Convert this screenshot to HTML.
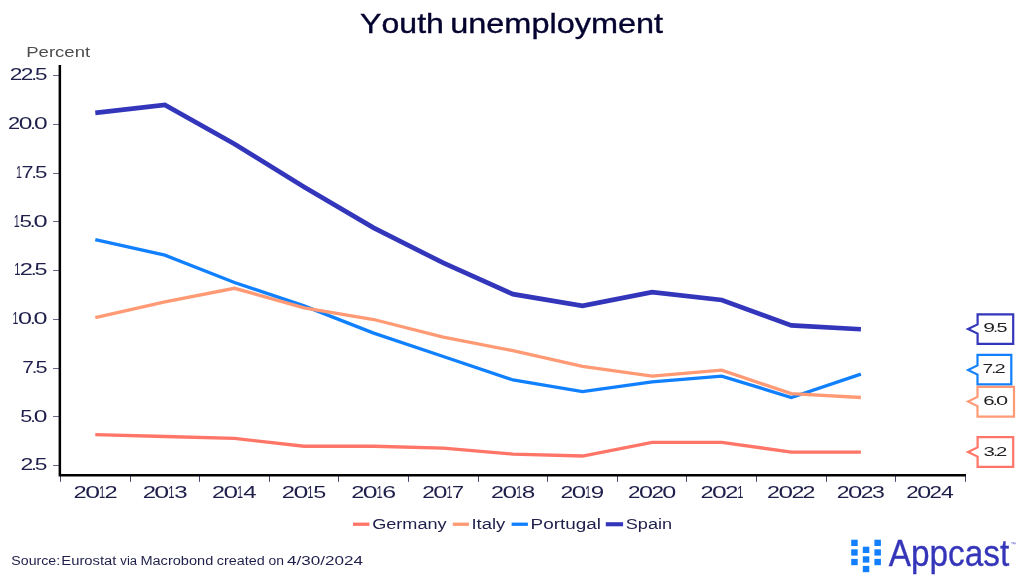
<!DOCTYPE html>
<html lang="en"><head><meta charset="utf-8"><title>Youth unemployment</title>
<style>
html,body{margin:0;padding:0;background:#fff;}
body{width:1024px;height:581px;overflow:hidden;}
svg{display:block;will-change:transform;}
text{font-family:"Liberation Sans",sans-serif;font-kerning:none;}
</style></head><body>
<svg width="1024" height="581" viewBox="0 0 1024 581">
<rect width="1024" height="581" fill="#fff"/>
<text y="32.90" font-size="28" fill="#04032f" stroke="#04032f" stroke-width="0.35"><tspan x="360.10" textLength="83.79" lengthAdjust="spacingAndGlyphs">Youth</tspan> <tspan x="450.19" textLength="212.95" lengthAdjust="spacingAndGlyphs">unemployment</tspan></text>
<text x="26.28" y="56.70" font-size="15.3" fill="#4d4d4d" textLength="63.86" lengthAdjust="spacingAndGlyphs">Percent</text>
<line x1="53" x2="59" y1="75.5" y2="75.5" stroke="#66668a" stroke-width="1"/>
<text y="80.30" font-size="16.2" fill="#1f1f4b"><tspan x="9.85" textLength="12.68" lengthAdjust="spacingAndGlyphs">2</tspan><tspan x="20.83" textLength="12.68" lengthAdjust="spacingAndGlyphs">2</tspan><tspan x="31.25" textLength="5.77" lengthAdjust="spacingAndGlyphs">.</tspan><tspan x="35.02" textLength="12.53" lengthAdjust="spacingAndGlyphs">5</tspan></text>
<line x1="53" x2="59" y1="124.5" y2="124.5" stroke="#66668a" stroke-width="1"/>
<text y="129.05" font-size="16.2" fill="#1f1f4b"><tspan x="8.10" textLength="12.14" lengthAdjust="spacingAndGlyphs">2</tspan><tspan x="18.75" textLength="13.66" lengthAdjust="spacingAndGlyphs">0</tspan><tspan x="30.39" textLength="5.53" lengthAdjust="spacingAndGlyphs">.</tspan><tspan x="33.90" textLength="13.66" lengthAdjust="spacingAndGlyphs">0</tspan></text>
<line x1="53" x2="59" y1="173.5" y2="173.5" stroke="#66668a" stroke-width="1"/>
<text y="177.80" font-size="16.2" fill="#1f1f4b"><tspan x="16.09" textLength="5.94" lengthAdjust="spacingAndGlyphs">1</tspan><tspan x="21.58" textLength="11.99" lengthAdjust="spacingAndGlyphs">7</tspan><tspan x="31.39" textLength="5.72" lengthAdjust="spacingAndGlyphs">.</tspan><tspan x="35.12" textLength="12.42" lengthAdjust="spacingAndGlyphs">5</tspan></text>
<line x1="53" x2="59" y1="221.5" y2="221.5" stroke="#66668a" stroke-width="1"/>
<text y="226.55" font-size="16.2" fill="#1f1f4b"><tspan x="13.68" textLength="5.95" lengthAdjust="spacingAndGlyphs">1</tspan><tspan x="19.40" textLength="12.44" lengthAdjust="spacingAndGlyphs">5</tspan><tspan x="29.80" textLength="5.73" lengthAdjust="spacingAndGlyphs">.</tspan><tspan x="33.43" textLength="14.16" lengthAdjust="spacingAndGlyphs">0</tspan></text>
<line x1="53" x2="59" y1="270.5" y2="270.5" stroke="#66668a" stroke-width="1"/>
<text y="275.30" font-size="16.2" fill="#1f1f4b"><tspan x="14.15" textLength="6.22" lengthAdjust="spacingAndGlyphs">1</tspan><tspan x="19.86" textLength="13.15" lengthAdjust="spacingAndGlyphs">2</tspan><tspan x="30.68" textLength="5.99" lengthAdjust="spacingAndGlyphs">.</tspan><tspan x="34.58" textLength="13.00" lengthAdjust="spacingAndGlyphs">5</tspan></text>
<line x1="53" x2="59" y1="319.5" y2="319.5" stroke="#66668a" stroke-width="1"/>
<text y="324.05" font-size="16.2" fill="#1f1f4b"><tspan x="12.49" textLength="5.89" lengthAdjust="spacingAndGlyphs">1</tspan><tspan x="18.04" textLength="14.01" lengthAdjust="spacingAndGlyphs">0</tspan><tspan x="29.98" textLength="5.67" lengthAdjust="spacingAndGlyphs">.</tspan><tspan x="33.58" textLength="14.01" lengthAdjust="spacingAndGlyphs">0</tspan></text>
<line x1="53" x2="59" y1="368.5" y2="368.5" stroke="#66668a" stroke-width="1"/>
<text y="372.80" font-size="16.2" fill="#1f1f4b"><tspan x="22.33" textLength="11.63" lengthAdjust="spacingAndGlyphs">7</tspan><tspan x="31.85" textLength="5.55" lengthAdjust="spacingAndGlyphs">.</tspan><tspan x="35.46" textLength="12.05" lengthAdjust="spacingAndGlyphs">5</tspan></text>
<line x1="53" x2="59" y1="416.5" y2="416.5" stroke="#66668a" stroke-width="1"/>
<text y="421.55" font-size="16.2" fill="#1f1f4b"><tspan x="20.34" textLength="12.01" lengthAdjust="spacingAndGlyphs">5</tspan><tspan x="30.38" textLength="5.53" lengthAdjust="spacingAndGlyphs">.</tspan><tspan x="33.89" textLength="13.67" lengthAdjust="spacingAndGlyphs">0</tspan></text>
<line x1="53" x2="59" y1="465.5" y2="465.5" stroke="#66668a" stroke-width="1"/>
<text y="470.30" font-size="16.2" fill="#1f1f4b"><tspan x="20.54" textLength="12.82" lengthAdjust="spacingAndGlyphs">2</tspan><tspan x="31.08" textLength="5.84" lengthAdjust="spacingAndGlyphs">.</tspan><tspan x="34.89" textLength="12.67" lengthAdjust="spacingAndGlyphs">5</tspan></text>
<line x1="60.5" x2="60.5" y1="476" y2="481.8" stroke="#45456f" stroke-width="1"/>
<line x1="130.5" x2="130.5" y1="476" y2="481.8" stroke="#45456f" stroke-width="1"/>
<line x1="199.5" x2="199.5" y1="476" y2="481.8" stroke="#45456f" stroke-width="1"/>
<line x1="269.5" x2="269.5" y1="476" y2="481.8" stroke="#45456f" stroke-width="1"/>
<line x1="338.5" x2="338.5" y1="476" y2="481.8" stroke="#45456f" stroke-width="1"/>
<line x1="408.5" x2="408.5" y1="476" y2="481.8" stroke="#45456f" stroke-width="1"/>
<line x1="478.5" x2="478.5" y1="476" y2="481.8" stroke="#45456f" stroke-width="1"/>
<line x1="547.5" x2="547.5" y1="476" y2="481.8" stroke="#45456f" stroke-width="1"/>
<line x1="617.5" x2="617.5" y1="476" y2="481.8" stroke="#45456f" stroke-width="1"/>
<line x1="686.5" x2="686.5" y1="476" y2="481.8" stroke="#45456f" stroke-width="1"/>
<line x1="756.5" x2="756.5" y1="476" y2="481.8" stroke="#45456f" stroke-width="1"/>
<line x1="826.5" x2="826.5" y1="476" y2="481.8" stroke="#45456f" stroke-width="1"/>
<line x1="895.5" x2="895.5" y1="476" y2="481.8" stroke="#45456f" stroke-width="1"/>
<line x1="965.5" x2="965.5" y1="476" y2="481.8" stroke="#45456f" stroke-width="1"/>
<text y="498.20" font-size="16.2" fill="#1f1f4b"><tspan x="73.61" textLength="13.16" lengthAdjust="spacingAndGlyphs">2</tspan><tspan x="85.16" textLength="14.82" lengthAdjust="spacingAndGlyphs">0</tspan><tspan x="98.90" textLength="6.23" lengthAdjust="spacingAndGlyphs">1</tspan><tspan x="104.63" textLength="13.16" lengthAdjust="spacingAndGlyphs">2</tspan></text>
<text y="498.20" font-size="16.2" fill="#1f1f4b"><tspan x="142.70" textLength="13.29" lengthAdjust="spacingAndGlyphs">2</tspan><tspan x="154.35" textLength="14.95" lengthAdjust="spacingAndGlyphs">0</tspan><tspan x="168.22" textLength="6.28" lengthAdjust="spacingAndGlyphs">1</tspan><tspan x="174.28" textLength="13.37" lengthAdjust="spacingAndGlyphs">3</tspan></text>
<text y="498.20" font-size="16.2" fill="#1f1f4b"><tspan x="212.13" textLength="12.94" lengthAdjust="spacingAndGlyphs">2</tspan><tspan x="223.48" textLength="14.56" lengthAdjust="spacingAndGlyphs">0</tspan><tspan x="236.99" textLength="6.12" lengthAdjust="spacingAndGlyphs">1</tspan><tspan x="243.23" textLength="13.37" lengthAdjust="spacingAndGlyphs">4</tspan></text>
<text y="498.20" font-size="16.2" fill="#1f1f4b"><tspan x="281.80" textLength="13.22" lengthAdjust="spacingAndGlyphs">2</tspan><tspan x="293.41" textLength="14.88" lengthAdjust="spacingAndGlyphs">0</tspan><tspan x="307.21" textLength="6.25" lengthAdjust="spacingAndGlyphs">1</tspan><tspan x="313.22" textLength="13.07" lengthAdjust="spacingAndGlyphs">5</tspan></text>
<text y="498.20" font-size="16.2" fill="#1f1f4b"><tspan x="351.21" textLength="13.19" lengthAdjust="spacingAndGlyphs">2</tspan><tspan x="362.78" textLength="14.84" lengthAdjust="spacingAndGlyphs">0</tspan><tspan x="376.55" textLength="6.24" lengthAdjust="spacingAndGlyphs">1</tspan><tspan x="382.21" textLength="13.89" lengthAdjust="spacingAndGlyphs">6</tspan></text>
<text y="498.20" font-size="16.2" fill="#1f1f4b"><tspan x="422.26" textLength="12.63" lengthAdjust="spacingAndGlyphs">2</tspan><tspan x="433.34" textLength="14.21" lengthAdjust="spacingAndGlyphs">0</tspan><tspan x="446.52" textLength="5.97" lengthAdjust="spacingAndGlyphs">1</tspan><tspan x="452.04" textLength="12.05" lengthAdjust="spacingAndGlyphs">7</tspan></text>
<text y="498.20" font-size="16.2" fill="#1f1f4b"><tspan x="491.13" textLength="12.94" lengthAdjust="spacingAndGlyphs">2</tspan><tspan x="502.48" textLength="14.57" lengthAdjust="spacingAndGlyphs">0</tspan><tspan x="516.00" textLength="6.12" lengthAdjust="spacingAndGlyphs">1</tspan><tspan x="521.73" textLength="13.52" lengthAdjust="spacingAndGlyphs">8</tspan></text>
<text y="498.20" font-size="16.2" fill="#1f1f4b"><tspan x="560.54" textLength="12.79" lengthAdjust="spacingAndGlyphs">2</tspan><tspan x="571.76" textLength="14.39" lengthAdjust="spacingAndGlyphs">0</tspan><tspan x="585.11" textLength="6.05" lengthAdjust="spacingAndGlyphs">1</tspan><tspan x="590.69" textLength="13.45" lengthAdjust="spacingAndGlyphs">9</tspan></text>
<text y="498.20" font-size="16.2" fill="#1f1f4b"><tspan x="627.97" textLength="12.47" lengthAdjust="spacingAndGlyphs">2</tspan><tspan x="638.91" textLength="14.03" lengthAdjust="spacingAndGlyphs">0</tspan><tspan x="651.41" textLength="12.47" lengthAdjust="spacingAndGlyphs">2</tspan><tspan x="662.35" textLength="14.03" lengthAdjust="spacingAndGlyphs">0</tspan></text>
<text y="498.20" font-size="16.2" fill="#1f1f4b"><tspan x="700.61" textLength="13.11" lengthAdjust="spacingAndGlyphs">2</tspan><tspan x="712.11" textLength="14.75" lengthAdjust="spacingAndGlyphs">0</tspan><tspan x="725.26" textLength="13.11" lengthAdjust="spacingAndGlyphs">2</tspan><tspan x="737.15" textLength="6.20" lengthAdjust="spacingAndGlyphs">1</tspan></text>
<text y="498.20" font-size="16.2" fill="#1f1f4b"><tspan x="767.13" textLength="12.93" lengthAdjust="spacingAndGlyphs">2</tspan><tspan x="778.48" textLength="14.55" lengthAdjust="spacingAndGlyphs">0</tspan><tspan x="791.44" textLength="12.93" lengthAdjust="spacingAndGlyphs">2</tspan><tspan x="802.64" textLength="12.93" lengthAdjust="spacingAndGlyphs">2</tspan></text>
<text y="498.20" font-size="16.2" fill="#1f1f4b"><tspan x="836.75" textLength="12.76" lengthAdjust="spacingAndGlyphs">2</tspan><tspan x="847.94" textLength="14.36" lengthAdjust="spacingAndGlyphs">0</tspan><tspan x="860.74" textLength="12.76" lengthAdjust="spacingAndGlyphs">2</tspan><tspan x="872.07" textLength="12.85" lengthAdjust="spacingAndGlyphs">3</tspan></text>
<text y="498.20" font-size="16.2" fill="#1f1f4b"><tspan x="906.28" textLength="12.41" lengthAdjust="spacingAndGlyphs">2</tspan><tspan x="917.17" textLength="13.97" lengthAdjust="spacingAndGlyphs">0</tspan><tspan x="929.61" textLength="12.41" lengthAdjust="spacingAndGlyphs">2</tspan><tspan x="940.95" textLength="12.82" lengthAdjust="spacingAndGlyphs">4</tspan></text>
<polyline points="95.30,112.80 164.90,105.00 234.50,144.00 304.10,186.90 373.70,227.85 443.30,262.95 512.90,294.15 582.50,305.85 652.10,292.20 721.70,300.00 791.30,325.35 860.90,329.25" fill="none" stroke="#3336bb" stroke-width="4.7" stroke-linejoin="miter" stroke-linecap="butt"/>
<polyline points="95.30,239.55 164.90,255.15 234.50,282.45 304.10,305.85 373.70,333.15 443.30,356.55 512.90,379.95 582.50,391.65 652.10,381.90 721.70,376.05 791.30,397.50 860.90,374.10" fill="none" stroke="#1180fe" stroke-width="3.3" stroke-linejoin="miter" stroke-linecap="butt"/>
<polyline points="95.30,317.55 164.90,301.95 234.50,288.30 304.10,307.80 373.70,319.50 443.30,337.05 512.90,350.70 582.50,366.30 652.10,376.05 721.70,370.20 791.30,393.60 860.90,397.50" fill="none" stroke="#ff9a75" stroke-width="3.3" stroke-linejoin="miter" stroke-linecap="butt"/>
<polyline points="95.30,434.55 164.90,436.50 234.50,438.45 304.10,446.25 373.70,446.25 443.30,448.20 512.90,454.05 582.50,456.00 652.10,442.35 721.70,442.35 791.30,452.10 860.90,452.10" fill="none" stroke="#ff7567" stroke-width="3.3" stroke-linejoin="miter" stroke-linecap="butt"/>
<path d="M59.85 65 V475.35 H966" fill="none" stroke="#000000" stroke-width="2.5" stroke-linejoin="miter"/>
<path d="M977.6 314.3 H1013.2 V343.8 H977.6 V333.6 L968.0 329.0 L977.6 324.4 Z" fill="#fff" stroke="#3336bb" stroke-width="2.2" stroke-linejoin="miter"/>
<text y="332.40" font-size="13.5" fill="#222222"><tspan x="983.31" textLength="11.75" lengthAdjust="spacingAndGlyphs">9</tspan><tspan x="993.08" textLength="5.08" lengthAdjust="spacingAndGlyphs">.</tspan><tspan x="996.40" textLength="11.04" lengthAdjust="spacingAndGlyphs">5</tspan></text>
<path d="M977.5 354.8 H1011.3 V384.45 H977.5 V374.6 L968.1 370.0 L977.5 365.4 Z" fill="#fff" stroke="#1180fe" stroke-width="2.2" stroke-linejoin="miter"/>
<text y="373.20" font-size="13.5" fill="#222222"><tspan x="982.62" textLength="10.66" lengthAdjust="spacingAndGlyphs">7</tspan><tspan x="991.34" textLength="5.09" lengthAdjust="spacingAndGlyphs">.</tspan><tspan x="994.44" textLength="11.17" lengthAdjust="spacingAndGlyphs">2</tspan></text>
<path d="M977.5 386.8 H1014.0 V416.55 H977.5 V406.1 L968.1 401.5 L977.5 396.9 Z" fill="#fff" stroke="#ff9a75" stroke-width="2.2" stroke-linejoin="miter"/>
<text y="405.20" font-size="13.5" fill="#222222"><tspan x="983.36" textLength="11.37" lengthAdjust="spacingAndGlyphs">6</tspan><tspan x="992.89" textLength="4.91" lengthAdjust="spacingAndGlyphs">.</tspan><tspan x="996.01" textLength="12.15" lengthAdjust="spacingAndGlyphs">0</tspan></text>
<path d="M977.6 437.1 H1013.2 V466.8 H977.6 V456.6 L968.0 452.0 L977.6 447.4 Z" fill="#fff" stroke="#ff7567" stroke-width="2.2" stroke-linejoin="miter"/>
<text y="455.70" font-size="13.5" fill="#222222"><tspan x="983.42" textLength="11.36" lengthAdjust="spacingAndGlyphs">3</tspan><tspan x="992.90" textLength="5.14" lengthAdjust="spacingAndGlyphs">.</tspan><tspan x="996.03" textLength="11.29" lengthAdjust="spacingAndGlyphs">2</tspan></text>
<line x1="353.0" x2="369.4" y1="524.25" y2="524.25" stroke="#ff7567" stroke-width="3.3"/>
<text x="372.19" y="528.50" font-size="15.5" fill="#1f1f4b" textLength="74.45" lengthAdjust="spacingAndGlyphs">Germany</text>
<line x1="452.8" x2="468.9" y1="524.25" y2="524.25" stroke="#ff9a75" stroke-width="3.3"/>
<text x="471.50" y="528.50" font-size="15.5" fill="#1f1f4b" textLength="33.84" lengthAdjust="spacingAndGlyphs">Italy</text>
<line x1="511.6" x2="527.9" y1="524.25" y2="524.25" stroke="#1180fe" stroke-width="3.3"/>
<text x="530.55" y="528.50" font-size="15.5" fill="#1f1f4b" textLength="70.42" lengthAdjust="spacingAndGlyphs">Portugal</text>
<line x1="605.8" x2="623.1" y1="524.25" y2="524.25" stroke="#3336bb" stroke-width="4.1"/>
<text x="625.78" y="528.50" font-size="15.5" fill="#1f1f4b" textLength="46.40" lengthAdjust="spacingAndGlyphs">Spain</text>
<text y="564.80" font-size="12.5" fill="#1f1f4b"><tspan x="11.36" textLength="48.73" lengthAdjust="spacingAndGlyphs">Source:</tspan> <tspan x="61.29" textLength="55.12" lengthAdjust="spacingAndGlyphs">Eurostat</tspan> <tspan x="120.36" textLength="16.74" lengthAdjust="spacingAndGlyphs">via</tspan> <tspan x="140.41" textLength="72.83" lengthAdjust="spacingAndGlyphs">Macrobond</tspan> <tspan x="216.89" textLength="47.94" lengthAdjust="spacingAndGlyphs">created</tspan> <tspan x="268.52" textLength="15.49" lengthAdjust="spacingAndGlyphs">on</tspan> <tspan x="286.91" textLength="76.09" lengthAdjust="spacingAndGlyphs">4/30/2024</tspan></text>
<rect x="851.2" y="539.7" width="6.5" height="6.3" fill="#1280fe"/>
<rect x="851.2" y="549.3" width="6.5" height="6.3" fill="#1280fe"/>
<rect x="851.2" y="558.9" width="6.5" height="6.3" fill="#1280fe"/>
<rect x="862.8" y="546.7" width="6.5" height="6.3" fill="#1280fe"/>
<rect x="862.8" y="556.3" width="6.5" height="6.3" fill="#1280fe"/>
<rect x="862.8" y="565.9" width="6.5" height="6.3" fill="#1280fe"/>
<rect x="874.4" y="539.7" width="6.5" height="6.3" fill="#1280fe"/>
<rect x="874.4" y="549.3" width="6.5" height="6.3" fill="#1280fe"/>
<rect x="874.4" y="558.9" width="6.5" height="6.3" fill="#1280fe"/>
<text x="888.73" y="565.90" font-size="36" fill="#3535ba" textLength="120.61" lengthAdjust="spacingAndGlyphs" stroke="#3535ba" stroke-width="0.3">Appcast</text>
<text x="1010.8" y="545.6" font-size="5.2" fill="#3535ba">™</text>
</svg></body></html>
